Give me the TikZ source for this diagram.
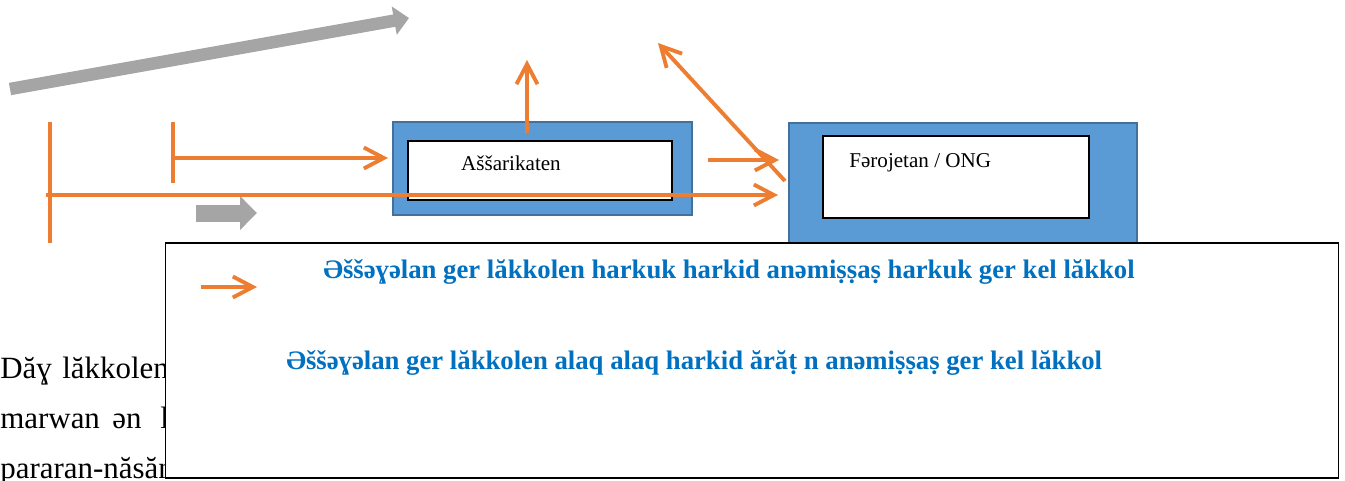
\documentclass[tikz,border=0pt]{standalone}
\usepackage{fontspec}
\setmainfont{Liberation Serif}
\usetikzlibrary{arrows.meta}
\definecolor{boxblue}{HTML}{5B9BD5}
\definecolor{boxedge}{HTML}{41719C}
\definecolor{linkorange}{HTML}{ED7D31}
\definecolor{noteblue}{HTML}{0070C0}
\definecolor{blockgray}{HTML}{A5A5A5}
\begin{document}
\begin{tikzpicture}[x=0.02cm, y=-0.02cm,
        office/.style={draw=boxedge, fill=boxblue, line width=1.1pt, inner sep=0pt},
        card/.style={draw, fill=white, line width=0.7pt, inner sep=0pt},
        boxtext/.style={inner sep=0pt, font=\fontsize{12}{14}\selectfont},
        bodytext/.style={inner sep=0pt, anchor=base west, font=\fontsize{17.6}{20}\selectfont},
        notetext/.style={inner sep=0pt, anchor=base west, text=noteblue, font=\bfseries\fontsize{15.2}{18}\selectfont},
        link/.style={draw=linkorange, line width=2.2pt},
        linkarrow/.style={link, -{Straight Barb[length=0.4cm, width=0.42cm]}},
        blockarrow/.style={draw=blockgray}]
    \useasboundingbox (0,0) rectangle (1345,480);
    \coordinate (slopetail) at (10,89);
    \coordinate (slopehead) at (409,18);
    \coordinate (pushtail) at (196,213);
    \coordinate (pushhead) at (257,213);
    \draw[blockarrow, line width=0.25cm, -{Triangle[length=0.3cm, width=0.56cm]}] (slopetail) -- (slopehead);
    \draw[blockarrow, line width=0.34cm, -{Triangle[length=0.34cm, width=0.66cm]}] (pushtail) -- (pushhead);

    \node[office, minimum width=6.96cm, minimum height=2.78cm] (feroj) at (963,192.5) {};
    \node[card, minimum width=5.32cm, minimum height=1.64cm] (ferojcard) at (956,177) {};
    \node[boxtext, anchor=base west] (ferojtext) at (849,167) {Fərojetan / ONG};
    \node[office, minimum width=5.98cm, minimum height=1.86cm] (assar) at (542.5,168.5) {};
    \node[card, minimum width=5.28cm, minimum height=1.18cm] (assarcard) at (540,170.5) {};
    \node[boxtext, anchor=base] (assartext) at (511,170) {Aššarikaten};

    \coordinate (bartop1) at (50,122);
    \coordinate (barbot1) at (50,243);
    \coordinate (bartop2) at (173,122);
    \coordinate (barbot2) at (173,183);
    \coordinate (feed) at (173,158);
    \coordinate (feedend) at (388,158);
    \coordinate (long) at (46,195);
    \coordinate (longend) at (778,195);
    \coordinate (rise) at (527,133);
    \coordinate (riseend) at (527,60);
    \coordinate (back) at (785,181);
    \coordinate (backend) at (658,43);
    \coordinate (pass) at (708,160);
    \coordinate (passend) at (779,160);
    \draw[link] (bartop1) -- (barbot1);
    \draw[link] (bartop2) -- (barbot2);
    \draw[linkarrow] (feed) -- (feedend);
    \draw[linkarrow] (long) -- (longend);
    \draw[linkarrow] (rise) -- (riseend);
    \draw[linkarrow] (back) -- (backend);
    \draw[linkarrow] (pass) -- (passend);

    \node[bodytext] (word1) at (0,378) {Dăɣ};
    \node[bodytext] (word2) at (62,378) {lăkkolen};
    \node[bodytext] (word3) at (0,428) {marwan};
    \node[bodytext] (word4) at (112,428) {ən};
    \node[bodytext] (word5) at (160,428) {lă};
    \node[bodytext] (word6) at (0,478) {pararan-năsăn};

    \node[draw, fill=white, line width=0.6pt, minimum width=23.48cm, minimum height=4.7cm, inner sep=0pt] (legend) at (752,360.5) {};
    \coordinate (mark) at (201,287);
    \coordinate (markend) at (257,287);
    \draw[linkarrow] (mark) -- (markend);
    \node[notetext] (note1) at (323,278) {Əššəɣəlan ger lăkkolen harkuk harkid anəmiṣṣaṣ harkuk ger kel lăkkol};
    \node[notetext] (note2) at (286,369) {Əššəɣəlan ger lăkkolen alaq alaq harkid ărăṭ n anəmiṣṣaṣ ger kel lăkkol};
\end{tikzpicture}
\end{document}
